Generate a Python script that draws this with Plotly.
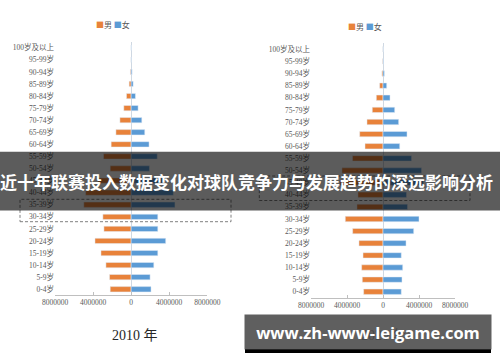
import plotly.graph_objects as go

# ---------------- data ----------------
ages = ["0-4岁", "5-9岁", "10-14岁", "15-19岁", "20-24岁", "25-29岁", "30-34岁",
        "35-39岁", "40-44岁", "45-49岁", "50-54岁", "55-59岁", "60-64岁", "65-69岁",
        "70-74岁", "75-79岁", "80-84岁", "85-89岁", "90-94岁", "95-99岁", "100岁及以上"]

male_2010 = [2200000, 2270000, 2650000, 3170000, 3800000, 2860000, 2970000,
             4970000, 4780000, 3500000, 2200000, 2900000, 2100000, 1600000,
             1180000, 770000, 490000, 210000, 80000, 20000, 5000]
female_2010 = [2090000, 1990000, 2380000, 2800000, 3630000, 2800000, 2800000,
               4600000, 4430000, 3300000, 1920000, 2740000, 1880000, 1430000,
               1120000, 730000, 450000, 210000, 100000, 30000, 10000]

male_2020 = [2150000, 2300000, 2370000, 2220000, 2670000, 3370000, 4190000,
             2890000, 2780000, 4800000, 4560000, 3390000, 2000000, 2590000,
             1780000, 1190000, 740000, 370000, 120000, 40000, 10000]
female_2020 = [2030000, 2110000, 2190000, 2030000, 2560000, 3410000, 4000000,
               2720000, 2610000, 4500000, 4280000, 3170000, 1860000, 2670000,
               1740000, 1300000, 780000, 410000, 150000, 50000, 10000]

tick_vals = [-8000000, -4000000, 0, 4000000, 8000000]
tick_text = ["8000000", "4000000", "0", "4000000", "8000000"]

series_names = ["男", "女"]
chart_titles = ["2010 年", "2020 年"]
banner_text = "近十年联赛投入数据变化对球队竞争力与发展趋势的深远影响分析"
watermark_text = "www.zh-www-leigame.com"

# ---------------- style ----------------
W, H = 500, 362
ORANGE = "#E8823A"
BLUE = "#5B9BD5"
LABEL_FONT = dict(family="Liberation Serif, Noto Sans CJK SC", size=7.5, color="#595959")


def px(x):
    return x / W


def py(y):
    return 1 - y / H


fig = go.Figure()

for male, female, xa, ya in [(male_2010, female_2010, "x", "y"),
                             (male_2020, female_2020, "x2", "y2")]:
    fig.add_trace(go.Bar(y=ages, x=[-v for v in male], orientation="h",
                         name=series_names[0], marker_color=ORANGE,
                         xaxis=xa, yaxis=ya, showlegend=False,
                         customdata=male, hovertemplate="%{y}: %{customdata}<extra>男</extra>"))
    fig.add_trace(go.Bar(y=ages, x=female, orientation="h",
                         name=series_names[1], marker_color=BLUE,
                         xaxis=xa, yaxis=ya, showlegend=False))

xaxis_common = dict(range=[-8000000, 8000000], tickvals=tick_vals, ticktext=tick_text,
                    showline=True, linecolor="#bfbfbf", linewidth=1,
                    ticks="inside", ticklen=3, tickcolor="#bfbfbf",
                    showgrid=False, zeroline=True, zerolinecolor="#cfd8e2",
                    zerolinewidth=1, tickfont=LABEL_FONT, fixedrange=True,
                    automargin=False)
yaxis_common = dict(type="category", range=[-0.5, 20.5], showgrid=False,
                    showline=False, ticks="", zeroline=False,
                    tickfont=LABEL_FONT, fixedrange=True, automargin=False)

fig.update_layout(
    width=W, height=H, autosize=False,
    margin=dict(l=0, r=0, t=0, b=0, autoexpand=False),
    paper_bgcolor="white", plot_bgcolor="white",
    barmode="relative", bargap=0.56,
    xaxis=dict(domain=[px(55), px(207.3)], anchor="y", **xaxis_common),
    yaxis=dict(domain=[py(295.3), py(41.7)], anchor="x", **yaxis_common),
    xaxis2=dict(domain=[px(311), px(455)], anchor="y2", **xaxis_common),
    yaxis2=dict(domain=[py(297.8), py(43.2)], anchor="x2", **yaxis_common),
)

legend_html = ('<span style="color:%s">■</span>%s <span style="color:%s">■</span>%s'
               % (ORANGE, series_names[0], BLUE, series_names[1]))

annotations = [
    dict(x=px(113), y=py(25), text=legend_html),
    dict(x=px(365), y=py(26), text=legend_html),
]
for a in annotations:
    a.update(xref="paper", yref="paper", showarrow=False, xanchor="center", yanchor="middle",
             font=dict(family="Noto Sans CJK SC", size=8, color="#595959"))

annotations += [
    dict(x=px(135), y=py(335), text=chart_titles[0], xref="paper", yref="paper",
         showarrow=False, xanchor="center", yanchor="middle",
         font=dict(family="Liberation Serif, Noto Sans CJK SC", size=14, color="#262626")),
    dict(x=px(384), y=py(335), text=chart_titles[1], xref="paper", yref="paper",
         showarrow=False, xanchor="center", yanchor="middle",
         font=dict(family="Liberation Serif, Noto Sans CJK SC", size=14, color="#262626")),
    # banner text
    dict(x=px(246), y=py(181.5), text=banner_text, xref="paper", yref="paper",
         showarrow=False, xanchor="center", yanchor="middle",
         font=dict(family="Noto Sans CJK SC", size=17, color="white", weight="bold")),
    # watermark band with text
    dict(x=px(368), y=py(332), text=watermark_text, xref="paper", yref="paper",
         showarrow=False, xanchor="center", yanchor="middle",
         width=246, height=34, borderpad=0, bgcolor="rgba(78,78,78,0.9)",
         font=dict(family="Open Sans", size=16.5, color="white", weight="bold")),
]

shapes = [
    # dashed highlight boxes
    dict(type="rect", xref="paper", yref="paper", x0=px(20), x1=px(231),
         y0=py(221.7), y1=py(199.3), line=dict(color="#808080", width=1, dash="3px,2px"),
         fillcolor="rgba(0,0,0,0)", layer="above"),
    dict(type="rect", xref="paper", yref="paper", x0=px(259.3), x1=px(470),
         y0=py(200.5), y1=py(176), line=dict(color="#808080", width=1, dash="3px,2px"),
         fillcolor="rgba(0,0,0,0)", layer="above"),
    # dark banner
    dict(type="rect", xref="paper", yref="paper", x0=0, x1=1,
         y0=py(210.5), y1=py(151.7), line=dict(width=0),
         fillcolor="rgba(0,0,0,0.64)", layer="above"),
    # black strip under watermark
    dict(type="rect", xref="paper", yref="paper", x0=px(245), x1=px(491),
         y0=py(353), y1=py(349), line=dict(width=0),
         fillcolor="black", layer="above"),
]

fig.update_layout(annotations=annotations, shapes=shapes)

fig.write_html("out.html",
               config={"displayModeBar": False, "staticPlot": True},
               post_script="document.body.style.margin='0';document.body.style.overflow='hidden';")
